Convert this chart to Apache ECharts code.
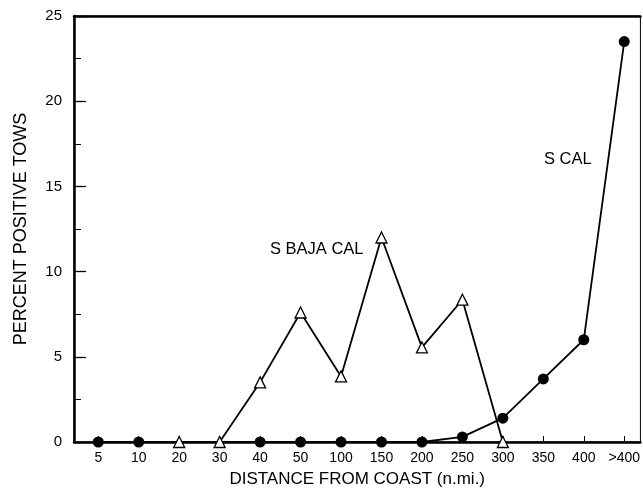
<!DOCTYPE html>
<html>
<head>
<meta charset="utf-8">
<script src="https://cdn.jsdelivr.net/npm/echarts@6/dist/echarts.min.js"></script>
<style>
html, body { margin: 0; padding: 0; background: #fff; }
#chart { width: 643px; height: 493px; }
</style>
</head>
<body>
<div id="chart"></div>
<script>
// distance classes along the x axis
var distances = ['5', '10', '20', '30', '40', '50', '100', '150', '200', '250', '300', '350', '400', '>400'];
// percent positive tows, null where the region was not sampled
var sCal = [0, 0, null, null, 0, 0, 0, 0, 0, 0.3, 1.4, 3.7, 6.0, 23.5];
var sBajaCal = [null, null, 0, 0, 3.5, 7.6, 3.85, 12.0, 5.55, 8.35, 0, null, null, null];

var font = 'Liberation Sans, Arial, Helvetica, sans-serif';
var idx = distances.map(function(d, i) { return i; });

function pairs(arr) {
	var out = [];
	arr.forEach(function(v, i) {
		if (v !== null) out.push([i, v]);
	});
	return out;
}

var chart = echarts.init(document.getElementById('chart'));

var option = {
	animation: false,
	backgroundColor: '#fff',
	grid: {
		left: 74, right: 2, top: 16, bottom: 50,
		show: true, borderColor: '#000', borderWidth: 1
	},
	xAxis: [{
		type: 'value',
		min: -0.6, max: 13.4,
		name: 'DISTANCE FROM COAST (n.mi.)',
		nameLocation: 'middle',
		nameGap: 29,
		nameTextStyle: { color: '#000', fontFamily: font, fontSize: 17 },
		axisLine: { show: true, onZero: false, lineStyle: { color: '#000', width: 2.5 } },
		axisTick: { show: true, inside: true, length: 6, customValues: idx, lineStyle: { color: '#000' } },
		axisLabel: {
			color: '#000', fontFamily: font, fontSize: 14, margin: 9,
			customValues: idx,
			formatter: function(v) { return distances[Math.round(v)]; }
		},
		splitLine: { show: false }
	}, {
		type: 'value',
		min: -0.6, max: 13.4,
		position: 'top',
		axisLine: { show: true, onZero: false, lineStyle: { color: '#000', width: 2.5 } },
		axisTick: { show: false },
		axisLabel: { show: false },
		splitLine: { show: false }
	}],
	yAxis: {
		type: 'value',
		min: 0, max: 25, interval: 5,
		name: 'PERCENT POSITIVE TOWS',
		nameLocation: 'middle',
		nameGap: 44,
		nameTextStyle: { color: '#000', fontFamily: font, fontSize: 18 },
		axisLine: { show: true, onZero: false, lineStyle: { color: '#000', width: 2.5 } },
		axisTick: { inside: true, length: 12, lineStyle: { color: '#000', width: 1.3 } },
		minorTick: { show: true, splitNumber: 2, length: 7, lineStyle: { color: '#000', width: 1 } },
		axisLabel: { color: '#000', fontFamily: font, fontSize: 15, margin: 12 },
		splitLine: { show: false }
	},
	series: [{
		name: 'S CAL',
		type: 'line',
		data: pairs(sCal),
		symbol: 'circle',
		symbolSize: 11,
		itemStyle: { color: '#000' },
		lineStyle: { color: '#000', width: 1.8 },
		z: 2
	}, {
		name: 'S BAJA CAL',
		type: 'line',
		data: pairs(sBajaCal),
		symbol: 'triangle',
		symbolSize: 11,
		itemStyle: { color: '#fff', borderColor: '#000', borderWidth: 1.3 },
		lineStyle: { color: '#000', width: 1.8 },
		z: 3
	}],
	graphic: [{
		type: 'text', left: 270, top: 241,
		style: { text: 'S BAJA CAL', fill: '#000', font: '16.5px ' + font }
	}, {
		type: 'text', left: 544, top: 151,
		style: { text: 'S CAL', fill: '#000', font: '16.5px ' + font }
	}]
};
chart.setOption(option);
</script>
</body>
</html>
